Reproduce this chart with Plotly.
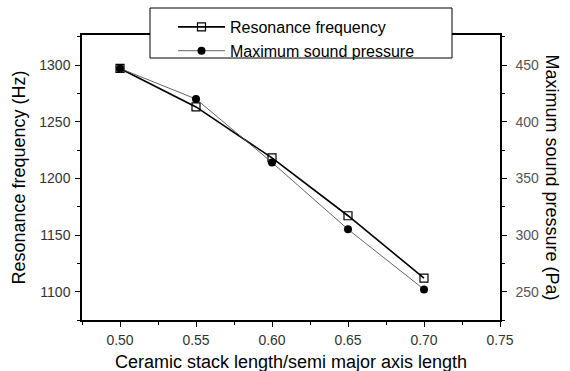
import plotly.graph_objects as go

ratio = [0.50, 0.55, 0.60, 0.65, 0.70]
res_freq = [1297, 1263, 1218, 1167, 1112]
sound_p = [447, 420, 364, 305, 252]

FONT = "Liberation Sans, Arial, sans-serif"
W, H = 570, 371
L, R, T, B = 82, 70, 35, 51
PW, PH = W - L - R, H - T - B

def px(x):
    return (x - L) / PW

def py(y):
    return 1 - (y - T) / PH

fig = go.Figure()
fig.add_trace(go.Scatter(
    x=ratio, y=res_freq, name="Resonance frequency", mode="lines+markers",
    line=dict(color="black", width=1.6),
    marker=dict(symbol="square-open", size=8, color="black", line=dict(width=1.2)),
    yaxis="y"))
fig.add_trace(go.Scatter(
    x=ratio, y=sound_p, name="Maximum sound pressure", mode="lines+markers",
    line=dict(color="#555555", width=0.9),
    marker=dict(symbol="circle", size=8, color="black"),
    yaxis="y2"))

fig.update_layout(
    width=W, height=H,
    margin=dict(l=L, r=R, t=T, b=B, autoexpand=False),
    paper_bgcolor="white", plot_bgcolor="white",
    font=dict(family=FONT, color="black", size=12),
    showlegend=True,
    legend=dict(x=px(173), y=py(10), xanchor="left", yanchor="top",
                bgcolor="rgba(0,0,0,0)", borderwidth=0,
                font=dict(size=16, family=FONT), tracegroupgap=0,
                itemwidth=47),
    xaxis=dict(range=[0.475, 0.75], tickvals=[0.50, 0.55, 0.60, 0.65, 0.70, 0.75],
               ticktext=["0.50", "0.55", "0.60", "0.65", "0.70", "0.75"],
               ticks="outside", ticklen=5, tickwidth=1, tickcolor="black",
               minor=dict(dtick=0.025, tick0=0.475, ticks="outside", ticklen=3, tickcolor="black"),
               showline=True, linecolor="black", linewidth=1.5, mirror=True,
               showgrid=False, zeroline=False, ticklabelstandoff=1, automargin=False,
               tickfont=dict(size=14, color="#333")),
    yaxis=dict(range=[1075, 1326.5], tickvals=[1100, 1150, 1200, 1250, 1300],
               ticks="outside", ticklen=5, tickwidth=1, tickcolor="black",
               minor=dict(dtick=25, tick0=1075, ticks="outside", ticklen=3, tickcolor="black"),
               showline=True, linecolor="black", linewidth=1.5,
               showgrid=False, zeroline=False, ticklabelstandoff=2, automargin=False,
               tickfont=dict(size=14, color="#333")),
    yaxis2=dict(range=[225, 476.5], tickvals=[250, 300, 350, 400, 450], overlaying="y",
                side="right", ticks="outside", ticklen=5, tickwidth=1, tickcolor="black",
                minor=dict(dtick=25, tick0=225, ticks="outside", ticklen=3, tickcolor="black"),
                showline=True, linecolor="black", linewidth=1.5,
                showgrid=False, zeroline=False, ticklabelstandoff=6, automargin=False,
                tickfont=dict(size=14, color="#555")),
    shapes=[dict(type="rect", xref="paper", yref="paper",
                 x0=px(150), x1=px(452), y0=py(58), y1=py(8),
                 fillcolor="white", line=dict(color="black", width=1), layer="above")],
    annotations=[
        dict(text="Maximum sound pressure (Pa)", textangle=90,
             x=px(552), xref="paper", y=0.5, yref="paper", showarrow=False,
             xanchor="center", yanchor="middle",
             font=dict(size=18, family=FONT)),
        dict(text="Resonance frequency (Hz)", textangle=-90,
             x=px(18), xref="paper", y=0.5, yref="paper", showarrow=False,
             xanchor="center", yanchor="middle",
             font=dict(size=18, family=FONT)),
        dict(text="Ceramic stack length/semi major axis length",
             x=px(291), xref="paper", y=py(362), yref="paper", showarrow=False,
             xanchor="center", yanchor="middle",
             font=dict(size=18, family=FONT)),
    ],
)
fig.write_html("out.html")
